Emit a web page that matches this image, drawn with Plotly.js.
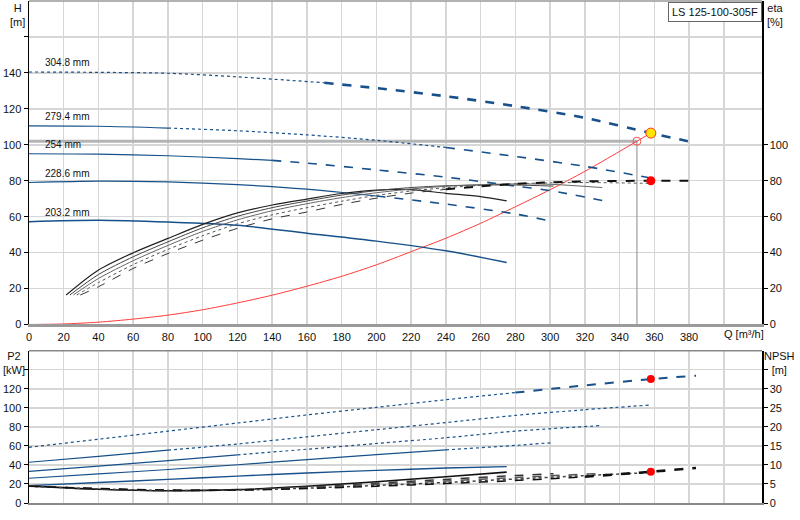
<!DOCTYPE html>
<html>
<head>
<meta charset="utf-8">
<script src="https://cdn.plot.ly/plotly-3.0.1.min.js"></script>
<style>html,body{margin:0;padding:0;background:#fff;} #graph{width:800px;height:520px;}</style>
</head>
<body>
<div id="graph"></div>
<script>
// impeller diameters
const diameters = ["304.8 mm", "279.4 mm", "254 mm", "228.6 mm", "203.2 mm"];
const pumpName = "LS 125-100-305F";

// H-Q curves [m]
const q304 = [0, 40, 80, 120, 170, 200, 240, 280, 320, 358, 384];
const h304 = [140.5, 140.3, 139.8, 137.8, 134.5, 131.5, 127, 121.5, 115, 106.5, 101];
const q279 = [0, 40, 80, 120, 160, 200, 240, 280, 320, 358];
const h279 = [110.5, 110.3, 109.3, 107.8, 105.5, 102.5, 98.5, 93.5, 88, 81.5];
const q254 = [0, 40, 80, 120, 140, 160, 200, 240, 280, 300, 330];
const h254 = [95, 94.8, 93.9, 92.3, 91.3, 89.8, 86, 82, 77, 74.5, 69];
const q228 = [0, 40, 80, 120, 160, 200, 240, 280, 302];
const h228 = [79, 79.8, 79.3, 77.8, 75.3, 71.5, 67, 61.5, 57.2];
const q203 = [0, 40, 80, 120, 160, 200, 240, 275];
const h203 = [57.2, 58, 57, 55.2, 50.8, 46.4, 41, 34.5];

// efficiency curves [%]
const e304Q = [29.5, 40, 60, 80, 100, 120, 140, 160, 180, 200, 220, 240, 260, 280, 300, 320, 358, 384];
const e304 = [16.4, 21, 31.2, 39.5, 46.9, 53.5, 58.8, 62.6, 66.8, 70.3, 73.1, 75.2, 76.9, 78.2, 79.1, 79.6, 80, 79.9];
const e279Q = [27.5, 40, 60, 80, 100, 120, 140, 160, 180, 200, 220, 240, 260, 280, 300, 320, 358];
const e279 = [16.4, 23.3, 33.3, 41.8, 49.4, 56, 61, 65, 68.6, 71.8, 74.3, 76.1, 77.4, 78.3, 78.8, 79, 78.5];
const e254Q = [25.5, 40, 60, 80, 100, 120, 140, 160, 180, 200, 220, 240, 260, 280, 300, 330];
const e254 = [16.4, 25.6, 35.5, 44, 51.8, 58.2, 63.3, 67.2, 70.6, 73.3, 75.4, 76.9, 77.8, 78.2, 78, 76.2];
const e228Q = [23.5, 40, 60, 80, 100, 120, 140, 160, 180, 200, 220, 240, 260, 280, 302];
const e228 = [16.4, 27.8, 37.7, 46, 53.8, 60.2, 65, 68.7, 72, 74.5, 76.2, 77.2, 77.6, 77.6, 77];
const e203Q = [21.4, 40, 60, 80, 100, 120, 140, 160, 180, 200, 220, 240, 260, 275];
const e203 = [16.4, 30.3, 39.9, 47.9, 55.7, 62.1, 66.5, 69.8, 72.9, 74.8, 75, 73, 71.2, 68.8];

// power P2 [kW]
const p304 = [58.5, 67, 75.5, 84, 92.5, 100.5, 108.5, 116, 123.5, 130.2, 133.7];
const p304Q = [0, 40, 80, 120, 160, 200, 240, 280, 320, 358, 384];
const p279 = [42.8, 49, 55.5, 62, 69.5, 77, 84.5, 92, 98, 103];
const p279Q = [0, 40, 80, 120, 160, 200, 240, 280, 320, 358];
const p254 = [33.3, 38.8, 44.5, 50.5, 56.5, 62.5, 68.5, 75.5, 81.4];
const p254Q = [0, 40, 80, 120, 160, 200, 240, 280, 330];
const p228 = [26, 30.5, 35.2, 40.2, 45.5, 50.8, 55.8, 60.5, 63.5];
const p228Q = [0, 40, 80, 120, 160, 200, 240, 280, 302];
const p203 = [18.2, 21.5, 24.8, 28.2, 31.5, 34.3, 36.7, 38.2];
const p203Q = [0, 40, 80, 120, 160, 200, 240, 275];

// NPSH [m]
const n304 = [4.4, 3.8, 3.4, 3.4, 3.8, 4.4, 5.1, 5.9, 6.9, 8.2, 9.2];
const n279 = [4.4, 3.7, 3.3, 3.4, 3.9, 4.6, 5.4, 6.3, 7.2, 8.0];
const n254 = [4.5, 3.7, 3.3, 3.4, 4.0, 4.9, 5.8, 6.7, 7.8];
const n228 = [4.5, 3.7, 3.3, 3.5, 4.2, 5.2, 6.2, 7.2, 7.7];
const n203 = [4.5, 3.6, 3.2, 3.5, 4.4, 5.6, 6.9, 8.1];

// system curve and duty point
const sysQ = [0, 20, 40, 60, 80, 100, 120, 140, 160, 180, 200, 220, 240, 260, 280, 300, 320, 340, 350, 358];
const sysH = [0, 0.3, 1.3, 3, 5.2, 8.2, 12, 16.3, 21.3, 26.8, 33.2, 40.5, 48, 56.3, 65.5, 75, 85.2, 96.3, 102, 106.5];
const dutyQ = 350, dutyH = 102;
const opQ = 358, opH = 106.5, opEta = 80, opP2 = 130.2, opNpsh = 8.2;

const qTicks = [0,20,40,60,80,100,120,140,160,180,200,220,240,260,280,300,320,340,360,380,400];

const NAVY = "#17508a";
const traces = [];

// split one curve into differently styled pieces
function addCurve(q, v, cuts, styles, xa, ya) {
    const bounds = [0, ...cuts, q.length - 1];
    styles.forEach((s, i) => {
        const a = bounds[i], b = bounds[i + 1];
        traces.push({x: q.slice(a, b + 1), y: v.slice(a, b + 1), mode: "lines", xaxis: xa, yaxis: ya,
            line: {color: s[0], width: s[1], dash: s[2], shape: "spline", smoothing: 0.8}, hoverinfo: "skip"});
    });
}

// duty point guide lines
traces.push({x: [0, dutyQ], y: [dutyH, dutyH], mode: "lines", line: {color: "#b4b4b4", width: 3}, xaxis: "x", yaxis: "y", hoverinfo: "skip"});
traces.push({x: [dutyQ, dutyQ], y: [0, dutyH], mode: "lines", line: {color: "#8a8a8a", width: 1}, xaxis: "x", yaxis: "y", hoverinfo: "skip"});
traces.push({x: sysQ, y: sysH, mode: "lines", line: {color: "#ff3b3b", width: 1, shape: "spline", smoothing: 0.8}, xaxis: "x", yaxis: "y", hoverinfo: "skip"});

// H curves
addCurve(q304, h304, [4], [[NAVY, 1.2, "dot"], [NAVY, 2.6, "dash"]], "x", "y");
addCurve(q279, h279, [2, 6], [[NAVY, 1.2, "solid"], [NAVY, 1.2, "dot"], [NAVY, 1.6, "dash"]], "x", "y");
addCurve(q254, h254, [4], [[NAVY, 1.2, "solid"], [NAVY, 1.6, "dash"]], "x", "y");
addCurve(q228, h228, [5], [[NAVY, 1.2, "solid"], [NAVY, 1.6, "dash"]], "x", "y");
addCurve(q203, h203, [], [[NAVY, 1.4, "solid"]], "x", "y");

// eta curves
addCurve(e203Q, e203, [], [["#222", 1.2, "solid"]], "x", "y2");
addCurve(e228Q, e228, [], [["#444", 1, "solid"]], "x", "y2");
addCurve(e254Q, e254, [], [["#666", 1, "solid"]], "x", "y2");
addCurve(e279Q, e279, [], [["#555", 1, "dot"]], "x", "y2");
addCurve(e304Q, e304, [11], [["#333", 1, "dash"], ["#111", 2, "dash"]], "x", "y2");

// P2 curves
addCurve(p304Q, p304, [7], [[NAVY, 1.2, "dot"], [NAVY, 2, "dash"]], "x2", "y3");
addCurve(p279Q, p279, [2], [[NAVY, 1.2, "solid"], [NAVY, 1.2, "dot"]], "x2", "y3");
addCurve(p254Q, p254, [3], [[NAVY, 1.2, "solid"], [NAVY, 1.2, "dot"]], "x2", "y3");
addCurve(p228Q, p228, [6], [[NAVY, 1.2, "solid"], [NAVY, 1.2, "dot"]], "x2", "y3");
addCurve(p203Q, p203, [], [[NAVY, 1.4, "solid"]], "x2", "y3");

// NPSH curves
addCurve(p203Q, n203, [], [["#111", 1.6, "solid"]], "x2", "y4");
addCurve(p228Q, n228, [], [["#333", 1.5, "dash"]], "x2", "y4");
addCurve(p254Q, n254, [], [["#555", 1.5, "dash"]], "x2", "y4");
addCurve(p279Q, n279, [], [["#444", 1.5, "dot"]], "x2", "y4");
addCurve(p304Q, n304, [8], [["#111", 1.5, "dash"], ["#111", 2.6, "dash"]], "x2", "y4");

// markers
traces.push({x: [dutyQ], y: [dutyH], mode: "markers", marker: {size: 8, color: "rgba(0,0,0,0)", line: {color: "#ff5050", width: 1}}, xaxis: "x", yaxis: "y", hoverinfo: "skip"});
traces.push({x: [opQ], y: [opH], mode: "markers", marker: {size: 10, color: "#ffe600", line: {color: "#ff3030", width: 1}}, xaxis: "x", yaxis: "y", hoverinfo: "skip"});
traces.push({x: [opQ], y: [opEta], mode: "markers", marker: {size: 9, color: "#ff0000"}, xaxis: "x", yaxis: "y2", hoverinfo: "skip"});
traces.push({x: [opQ], y: [opP2], mode: "markers", marker: {size: 8, color: "#ff0000"}, xaxis: "x2", yaxis: "y3", hoverinfo: "skip"});
traces.push({x: [opQ], y: [opNpsh], mode: "markers", marker: {size: 8, color: "#ff0000"}, xaxis: "x2", yaxis: "y4", hoverinfo: "skip"});

const GRID = "#d6d6d6";
const qText = qTicks.map(v => v === 400 ? "" : String(v));
const hTicks = [0,20,40,60,80,100,120,140,160];
const pTicks = [0,20,40,60,80,100,120,140];
const nTicks = [0,5,10,15,20,25,30,35];
const yBase = {showline: true, linecolor: "#000", linewidth: 1.5, ticks: "outside", ticklen: 4, tickcolor: "#000", zeroline: false, tickfont: {size: 11}};

const annotations = diameters.map((d, i) => ({text: d, x: 8, y: [h304, h279, h254, h228, h203][i][0], xref: "x", yref: "y",
    xanchor: "left", yanchor: "middle", yshift: 9, showarrow: false, font: {size: 10, color: "#111"}}));
annotations.push(
    {text: "Q [m³/h]", x: 399, y: 0, xref: "x", yref: "y", xanchor: "left", yanchor: "top", yshift: -2, showarrow: false, font: {size: 11}},
    {text: "H<br>[m]", x: -0.016, y: 1.002, xref: "paper", yref: "paper", xanchor: "center", yanchor: "top", showarrow: false, font: {size: 11}},
    {text: "eta<br>[%]", x: 1.018, y: 1.002, xref: "paper", yref: "paper", xanchor: "center", yanchor: "top", showarrow: false, font: {size: 11}},
    {text: "P2<br>[kW]", x: -0.02, y: 0.308, xref: "paper", yref: "paper", xanchor: "center", yanchor: "top", showarrow: false, font: {size: 11}},
    {text: "NPSH<br>[m]", x: 1.024, y: 0.308, xref: "paper", yref: "paper", xanchor: "center", yanchor: "top", showarrow: false, font: {size: 11}},
    {text: pumpName, x: 0.9995, y: 0.999, xref: "paper", yref: "paper", xanchor: "right", yanchor: "top", showarrow: false,
        bordercolor: "#666", borderwidth: 1, borderpad: 3, bgcolor: "#fff", font: {size: 11}}
);

const layout = {
    width: 800, height: 520, margin: {l: 29, r: 38, t: 1, b: 17},
    showlegend: false, paper_bgcolor: "#fff", plot_bgcolor: "#fff",
    font: {family: '"Liberation Sans", Arial, sans-serif', size: 11, color: "#111"},
    xaxis: {domain: [0, 1], anchor: "y", range: [0, 422], tickvals: qTicks, ticktext: qText, showgrid: true, gridcolor: GRID, gridwidth: 1.5,
        zeroline: false, showline: true, linecolor: "#9a9a9a", linewidth: 3, ticks: "", tickfont: {size: 11}},
    yaxis: Object.assign({}, yBase, {domain: [0.3556, 1], anchor: "x", range: [0, 180], tickvals: hTicks,
        ticktext: hTicks.map(v => v === 160 ? "" : String(v)), showgrid: true, gridcolor: GRID, gridwidth: 1.5}),
    yaxis2: Object.assign({}, yBase, {overlaying: "y", side: "right", anchor: "x", range: [0, 180], tickvals: [0,20,40,60,80,100], showgrid: false}),
    xaxis2: {domain: [0, 1], anchor: "y3", matches: "x", range: [0, 422], tickvals: qTicks, showticklabels: false, showgrid: true, gridcolor: GRID, gridwidth: 1.5,
        zeroline: false, showline: true, linecolor: "#8a8a8a", linewidth: 2, ticks: ""},
    yaxis3: Object.assign({}, yBase, {domain: [0, 0.3034], anchor: "x2", range: [0, 160], tickvals: pTicks,
        ticktext: pTicks.map(v => v === 140 ? "" : String(v)), showgrid: true, gridcolor: GRID, gridwidth: 1.5}),
    yaxis4: Object.assign({}, yBase, {overlaying: "y3", side: "right", anchor: "x2", range: [0, 40], tickvals: nTicks,
        ticktext: nTicks.map(v => v === 35 ? "" : String(v)), showgrid: false}),
    shapes: [
        {type: "line", xref: "paper", yref: "paper", x0: 0, x1: 1, y0: 1, y1: 1, line: {color: "#999", width: 1.5}},
        {type: "line", xref: "paper", yref: "paper", x0: 0, x1: 1, y0: 0.3034, y1: 0.3034, line: {color: "#888", width: 1.5}}
    ],
    annotations: annotations
};

Plotly.newPlot("graph", traces, layout, {displayModeBar: false, staticPlot: true});
</script>
</body>
</html>
